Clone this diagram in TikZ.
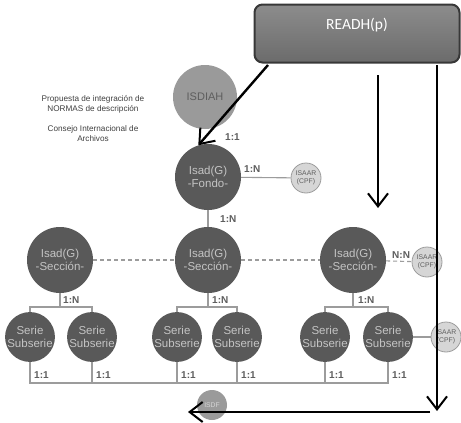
\documentclass[tikz,border=0pt]{standalone}
\usepackage{fontspec}
\setmainfont{Liberation Sans}
\newfontfamily\calfont{Carlito}
\usetikzlibrary{arrows.meta}
\definecolor{darkc}{HTML}{595959}
\definecolor{lightc}{HTML}{C4C4C4}
\definecolor{midc}{HTML}{9A9A9A}
\definecolor{smallc}{HTML}{D6D6D6}
\definecolor{conc}{HTML}{9C9C9C}
\definecolor{labc}{HTML}{5E5E5E}
\tikzset{
  bigc/.style={circle, fill=darkc, text=lightc, minimum size=66pt, inner sep=0pt, align=center, font=\fontsize{11.5}{13}\selectfont},
  childc/.style={circle, fill=darkc, text=lightc, minimum size=48pt, inner sep=0pt, align=center, font=\fontsize{11.5}{12.5}\selectfont},
  smallc/.style={circle, fill=smallc, draw=conc, line width=0.8pt, text=labc, minimum size=30pt, inner sep=0pt, align=center, font=\fontsize{6.8}{7.5}\selectfont},
  rel/.style={font=\bfseries\fontsize{10}{11}\selectfont, text=labc, inner sep=0pt, anchor=west},
  con/.style={draw=conc, line width=1.1pt},
  dcon/.style={draw=conc, line width=1.1pt, dash pattern=on 4pt off 3pt},
  desc/.style={font=\fontsize{8.2}{10}\selectfont, text=black!75, align=center},
  bigarrow/.style={draw=black, line width=2.4pt, -{Straight Barb[length=13pt,width=20pt,line width=2pt]}},
}
\begin{document}
\begin{tikzpicture}[x=1pt,y=-1pt]
\useasboundingbox (0,0) rectangle (461,423);
\fill[white] (0,0) rectangle (461,423);

% side text
\node[desc] (desc1) at (93,104) {Propuesta de integración de\\NORMAS de descripción};
\node[desc] (desc2) at (93,134) {Consejo Internacional de\\Archivos};

% READH box
\node[draw=black!78, line width=2pt, top color=black!45, bottom color=black!58, rounded corners=8pt, minimum width=205pt, minimum height=58pt, inner sep=0pt] (readh) at (357,33.5) {};
\node[text=white, font=\calfont\fontsize{15.5}{17}\selectfont] (readht) at (357,25) {READH(p)};

% circles
\node[circle, fill=midc, text=labc, minimum size=64pt, inner sep=0pt, font=\fontsize{11}{12}\selectfont] (isdiah) at (205,97) {ISDIAH};
\node[bigc] (fondo) at (208,177) {Isad(G)\\-Fondo-};
\node[smallc] (isaar1) at (306,178) {ISAAR\\(CPF)};
\node[bigc] (secl) at (60,260) {Isad(G)\\-Sección-};
\node[bigc] (secm) at (208,260) {Isad(G)\\-Sección-};
\node[bigc] (secr) at (353,260) {Isad(G)\\-Sección-};
\node[smallc] (isaar2) at (427,262) {ISAAR\\(CPF)};
\node[childc] (c1) at (30,337) {Serie\\Subserie};
\node[childc] (c2) at (92,337) {Serie\\Subserie};
\node[childc] (c3) at (177,337) {Serie\\Subserie};
\node[childc] (c4) at (237,337) {Serie\\Subserie};
\node[childc] (c5) at (325,337) {Serie\\Subserie};
\node[childc] (c6) at (388,337) {Serie\\Subserie};
\node[smallc] (isaar3) at (446,337) {ISAAR\\(CPF)};
\node[circle, fill=midc, text=smallc, minimum size=30pt, inner sep=0pt, font=\fontsize{6.8}{7.5}\selectfont] (isdf) at (212,405) {ISDF};

% helper levels
\coordinate (yb) at (0,307);
\coordinate (ybus) at (0,383);
\coordinate (ylab) at (0,375);

% connectors
\draw[con] (fondo) -- (isaar1);
\draw[con] (fondo) -- (secm);
\draw[dcon] (secl) -- (secm);
\draw[dcon] (secm) -- (secr);
\draw[dcon] (secr) -- (isaar2);
\draw[con] (c6) -- (isaar3);
\draw[con] (secl.south) -- (secl.south |- yb);
\draw[con] (c1.north) -- (c1.north |- yb) -| (c2.north);
\draw[con] (secm.south) -- (secm.south |- yb);
\draw[con] (c3.north) -- (c3.north |- yb) -| (c4.north);
\draw[con] (secr.south) -- (secr.south |- yb);
\draw[con] (c5.north) -- (c5.north |- yb) -| (c6.north);
\foreach \c in {c1,c2,c3,c4,c5}{\draw[con] (\c.south) -- (\c.south |- ybus);}
\draw[con] (c6.south) -- (c6.south |- ybus) -- (c1.south |- ybus) -- (c1.south);

% relation labels
\node[rel] (r1) at (225,137) {1:1};
\node[rel] (r2) at (244,169) {1:N};
\node[rel] (r3) at (220,219) {1:N};
\node[rel] (r4) at (63,300) {1:N};
\node[rel] (r5) at (212,300) {1:N};
\node[rel] (r6) at (358,300) {1:N};
\node[rel] (r7) at (392,255) {N:N};
\foreach \c/\n in {c1/a,c2/b,c3/c,c4/d,c5/e,c6/f}{\node[rel] (o\n) at ([xshift=4pt]\c.south |- ylab) {1:1};}

% big arrows
\coordinate (a1s) at (268,65);
\coordinate (a2s) at (378,75);
\coordinate (a2e) at (378,208);
\coordinate (a3s) at (437,65);
\coordinate (a3e) at (437,411);
\coordinate (a4s) at (430,412);
\coordinate (a4e) at (188,412);
\draw[bigarrow] (a1s) -- (fondo.107);
\draw[bigarrow] (a2s) -- (a2e);
\draw[bigarrow] (a3s) -- (a3e);
\draw[bigarrow] (a4s) -- (a4e);
\end{tikzpicture}
\end{document}
